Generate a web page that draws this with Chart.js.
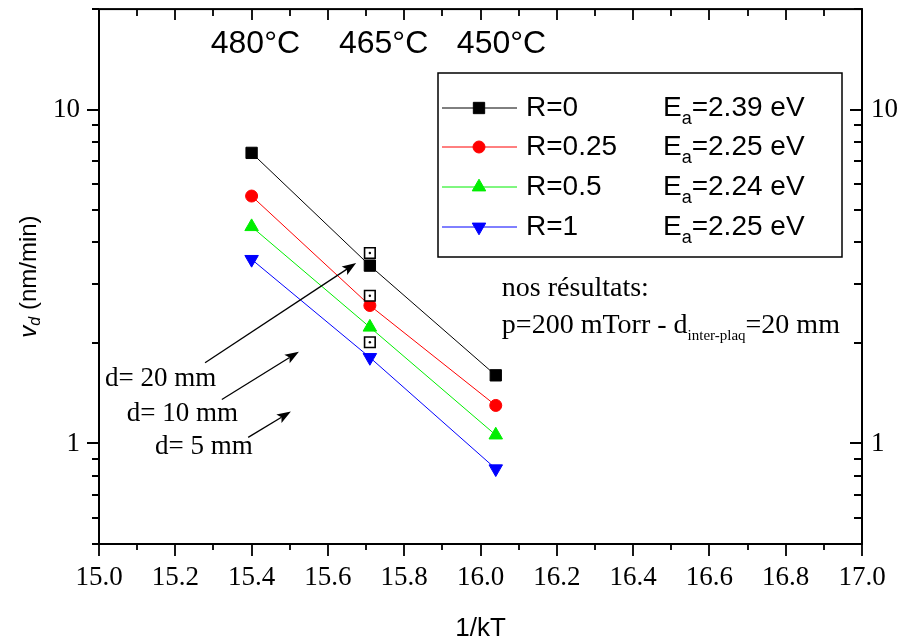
<!DOCTYPE html>
<html>
<head>
<meta charset="utf-8">
<script src="https://cdn.jsdelivr.net/npm/chart.js@4/dist/chart.umd.min.js"></script>
<style>
  html, body { margin: 0; padding: 0; background: #fff; }
  #wrap { width: 906px; height: 644px; }
</style>
</head>
<body>
<div id="wrap"><canvas id="chart" width="906" height="644"></canvas></div>
<script>
// ============================================================
// Vitesse de dépôt vs 1/kT — échelle log
// ============================================================

const X_VALUES = [15.40, 15.71, 16.04];
const SERIE_R0 = [7.42, 3.41, 1.60];
const SERIE_R025 = [5.51, 2.59, 1.30];
const SERIE_R05 = [4.46, 2.23, 1.06];
const SERIE_R1 = [3.56, 1.81, 0.84];
const ROTULOS_R = ['R=0', 'R=0.25', 'R=0.5', 'R=1'];
const VALEURS_EA = ['2.39', '2.25', '2.24', '2.25'];

// nos résultats (carrés ouverts)
const NOS_X = [15.71, 15.71, 15.71];
const NOS_Y = [3.72, 2.77, 2.01];

const X_MIN = 15.0;
const X_MAX = 17.0;
const X_LABELS = ['15.0', '15.2', '15.4', '15.6', '15.8', '16.0', '16.2', '16.4', '16.6', '16.8', '17.0'];
const Y_MIN = 0.5;
const Y_MAX = 20;
const Y_TICKS = [0.5, 0.6, 0.7, 0.8, 0.9, 1, 2, 3, 4, 5, 6, 7, 8, 9, 10, 20];
const Y_LABELS = [1, 10];

const TEMPERATURES = ['480°C', '465°C', '450°C'];

const SERIF = "'Liberation Serif', 'DejaVu Serif', serif";
const SANS = "'Liberation Sans', Arial, sans-serif";

function pontos(ys) {
  return X_VALUES.map((x, i) => ({ x, y: ys[i] }));
}

function serie(label, ys, cor, estilo, raio, rot, ordem) {
  return {
    label,
    data: pontos(ys),
    showLine: true,
    borderColor: cor,
    backgroundColor: cor,
    borderWidth: 1,
    pointStyle: estilo,
    pointRadius: raio,
    pointRotation: rot,
    pointBorderWidth: 1,
    pointBorderColor: cor,
    pointBackgroundColor: cor,
    order: ordem,
  };
}

const datasets = [
  serie(ROTULOS_R[0], SERIE_R0, '#000000', 'rect', 8, 0, 4),
  serie(ROTULOS_R[1], SERIE_R025, '#ff0000', 'circle', 6, 0, 3),
  serie(ROTULOS_R[2], SERIE_R05, '#00ee00', 'triangle', 7.8, 0, 2),
  serie(ROTULOS_R[3], SERIE_R1, '#0000ff', 'triangle', 7.8, 180, 1),
  {
    label: 'nos',
    data: NOS_X.map((x, i) => ({ x, y: NOS_Y[i] })),
    showLine: false,
    pointStyle: 'rect',
    pointRadius: 7.5,
    pointBorderWidth: 1.6,
    pointBorderColor: '#000',
    pointBackgroundColor: '#fff',
    order: 0,
  },
  {
    label: 'nos-point',
    data: NOS_X.map((x, i) => ({ x, y: NOS_Y[i] })),
    showLine: false,
    pointStyle: 'circle',
    pointRadius: 1.2,
    pointBorderWidth: 0,
    pointBackgroundColor: '#000',
    order: -1,
  },
];

// annotations (coordonnées en données)
const FLECHES = [
  { de: [15.278, 1.746], a: [15.674, 3.47] },
  { de: [15.322, 1.354], a: [15.524, 1.883] },
  { de: [15.391, 1.043], a: [15.503, 1.247] },
];
const TEXTES_D = [
  { t: 'd= 20 mm', x: 15.016, y: 1.564 },
  { t: 'd= 10 mm', x: 15.073, y: 1.23 },
  { t: 'd= 5 mm', x: 15.147, y: 0.974 },
];
const TEMP_POS = [15.41, 15.746, 16.055];

function isMajorX(v) {
  return Math.round(v * 10) % 2 === 0;
}

const logTicks = (scale) => {
  scale.ticks = Y_TICKS.map((v) => ({ value: v, major: Y_LABELS.includes(v) }));
};

const semPadding = (s) => {
  s.paddingTop = 0;
  s.paddingBottom = 0;
  s.paddingLeft = 0;
  s.paddingRight = 0;
};

const decor = {
  id: 'decor',
  afterDraw(chart) {
    const { ctx, chartArea: a, scales } = chart;
    const x = scales.x, y = scales.y;
    ctx.save();
    ctx.strokeStyle = '#000';
    ctx.fillStyle = '#000';

    // cadre
    ctx.lineWidth = 2;
    ctx.strokeRect(a.left, a.top, a.right - a.left, a.bottom - a.top);

    // graduations
    ctx.lineWidth = 1.8;
    ctx.beginPath();
    x.ticks.forEach((t) => {
      const px = Math.round(x.getPixelForValue(t.value));
      const maj = isMajorX(t.value);
      ctx.moveTo(px, a.bottom);
      ctx.lineTo(px, a.bottom + (maj ? 12 : 6));
      ctx.moveTo(px, a.top);
      ctx.lineTo(px, a.top + (maj ? 11 : 7));
    });
    y.ticks.forEach((t) => {
      const py = Math.round(y.getPixelForValue(t.value));
      const maj = Y_LABELS.includes(t.value);
      ctx.moveTo(a.left, py);
      ctx.lineTo(a.left - (maj ? 12 : 7), py);
      ctx.moveTo(a.right, py);
      ctx.lineTo(a.right - (maj ? 12 : 8), py);
    });
    ctx.stroke();

    // titre axe y
    ctx.save();
    ctx.translate(29, (a.top + a.bottom) / 2);
    ctx.rotate(-Math.PI / 2);
    ctx.textBaseline = 'middle';
    const fV = 'italic 24px ' + SANS;
    const fD = 'italic 16px ' + SANS;
    const fR = '24px ' + SANS;
    ctx.font = fV; const wV = ctx.measureText('v').width;
    ctx.font = fD; const wD = ctx.measureText('d').width;
    ctx.font = fR; const wR = ctx.measureText(' (nm/min)').width;
    let cx = -(wV + wD + wR) / 2;
    ctx.font = fV; ctx.fillText('v', cx, 0); cx += wV;
    ctx.font = fD; ctx.fillText('d', cx, 7); cx += wD;
    ctx.font = fR; ctx.fillText(' (nm/min)', cx, 0);
    ctx.restore();

    // températures
    ctx.font = '32px ' + SANS;
    ctx.textAlign = 'center';
    ctx.textBaseline = 'middle';
    TEMPERATURES.forEach((t, i) => {
      ctx.fillText(t, x.getPixelForValue(TEMP_POS[i]), y.getPixelForValue(15.73));
    });

    // flèches
    ctx.lineWidth = 1.3;
    FLECHES.forEach((f) => {
      const x1 = x.getPixelForValue(f.de[0]), y1 = y.getPixelForValue(f.de[1]);
      const x2 = x.getPixelForValue(f.a[0]), y2 = y.getPixelForValue(f.a[1]);
      const L = Math.hypot(x2 - x1, y2 - y1);
      const ux = (x2 - x1) / L, uy = (y2 - y1) / L;
      const bx = x2 - ux * 14, by = y2 - uy * 14;
      ctx.beginPath();
      ctx.moveTo(x1, y1);
      ctx.lineTo(bx + ux * 3, by + uy * 3);
      ctx.stroke();
      ctx.beginPath();
      ctx.moveTo(x2, y2);
      ctx.lineTo(bx - uy * 5, by + ux * 5);
      ctx.lineTo(bx + ux * 3, by + uy * 3);
      ctx.lineTo(bx + uy * 5, by - ux * 5);
      ctx.closePath();
      ctx.fill();
    });

    // étiquettes d=
    ctx.font = '27px ' + SERIF;
    ctx.textAlign = 'left';
    TEXTES_D.forEach((d) => {
      ctx.fillText(d.t, x.getPixelForValue(d.x), y.getPixelForValue(d.y));
    });

    // nos résultats
    const nx = x.getPixelForValue(16.056);
    ctx.font = '28px ' + SERIF;
    ctx.fillText('nos résultats:', nx, y.getPixelForValue(2.90));
    const ly = y.getPixelForValue(2.25);
    let tx = nx;
    const p1 = 'p=200 mTorr - d';
    ctx.fillText(p1, tx, ly); tx += ctx.measureText(p1).width;
    ctx.font = '15px ' + SERIF;
    ctx.fillText('inter-plaq', tx, ly + 10); tx += ctx.measureText('inter-plaq').width;
    ctx.font = '28px ' + SERIF;
    ctx.fillText('=20 mm', tx, ly);

    // légende
    const L0 = 438, T0 = 73, R0 = 842, B0 = 257;
    ctx.lineWidth = 1.5;
    ctx.strokeStyle = '#000';
    ctx.strokeRect(L0, T0, R0 - L0, B0 - T0);
    const rows = [108, 147, 187, 227];
    rows.forEach((ry, i) => {
      const ds = chart.data.datasets[i];
      ctx.strokeStyle = ds.borderColor;
      ctx.lineWidth = 1;
      ctx.beginPath();
      ctx.moveTo(442, ry);
      ctx.lineTo(517, ry);
      ctx.stroke();
      ctx.fillStyle = ds.pointBackgroundColor;
      ctx.strokeStyle = ds.pointBorderColor;
      Chart.helpers.drawPoint(ctx, {
        pointStyle: ds.pointStyle,
        rotation: ds.pointRotation,
        radius: ds.pointRadius,
        borderWidth: 1,
      }, 479, ry);
      ctx.fillStyle = '#000';
      ctx.textAlign = 'left';
      ctx.textBaseline = 'middle';
      ctx.font = '28px ' + SANS;
      ctx.fillText(ROTULOS_R[i], 526, ry);
      let ex = 663;
      ctx.fillText('E', ex, ry); ex += ctx.measureText('E').width;
      ctx.font = '18px ' + SANS;
      ctx.fillText('a', ex, ry + 11); ex += ctx.measureText('a').width;
      ctx.font = '28px ' + SANS;
      ctx.fillText('=' + VALEURS_EA[i] + ' eV', ex, ry);
    });

    ctx.restore();
  },
};

const tickFontSerif = { family: SERIF, size: 27 };

new Chart(document.getElementById('chart'), {
  type: 'scatter',
  data: { datasets },
  options: {
    responsive: false,
    animation: false,
    events: [],
    layout: { padding: { top: 7, right: 0, bottom: 0, left: 0 } },
    plugins: { legend: { display: false }, tooltip: { enabled: false } },
    scales: {
      x: {
        type: 'linear',
        position: 'bottom',
        min: X_MIN,
        max: X_MAX,
        border: { display: false },
        grid: { drawOnChartArea: false, drawTicks: true, tickLength: 12, color: 'rgba(0,0,0,0)' },
        ticks: {
          stepSize: 0.1,
          autoSkip: false,
          maxRotation: 0,
          padding: 6,
          color: '#000',
          font: tickFontSerif,
          callback: (v) => (isMajorX(v) ? X_LABELS[Math.round((v - X_MIN) * 5)] : ''),
        },
        title: {
          display: true,
          text: '1/kT',
          color: '#000',
          font: { family: SANS, size: 26 },
          padding: { top: 0, bottom: 0 },
        },
        afterFit: (s) => { s.height = 100; semPadding(s); },
      },
      y: {
        type: 'logarithmic',
        position: 'left',
        min: Y_MIN,
        max: Y_MAX,
        border: { display: false },
        grid: { drawOnChartArea: false, drawTicks: true, tickLength: 12, color: 'rgba(0,0,0,0)' },
        afterBuildTicks: logTicks,
        ticks: {
          autoSkip: false,
          padding: 7,
          color: '#000',
          font: tickFontSerif,
          callback: (v) => (Y_LABELS.includes(v) ? String(v) : ''),
        },
        afterFit: (s) => { s.width = 99; semPadding(s); },
      },
      y2: {
        type: 'logarithmic',
        position: 'right',
        min: Y_MIN,
        max: Y_MAX,
        border: { display: false },
        grid: { drawOnChartArea: false, drawTicks: false },
        afterBuildTicks: logTicks,
        ticks: {
          autoSkip: false,
          padding: 9,
          color: '#000',
          font: tickFontSerif,
          callback: (v) => (Y_LABELS.includes(v) ? String(v) : ''),
        },
        afterFit: (s) => { s.width = 44; semPadding(s); },
      },
    },
  },
  plugins: [decor],
});
</script>
</body>
</html>
